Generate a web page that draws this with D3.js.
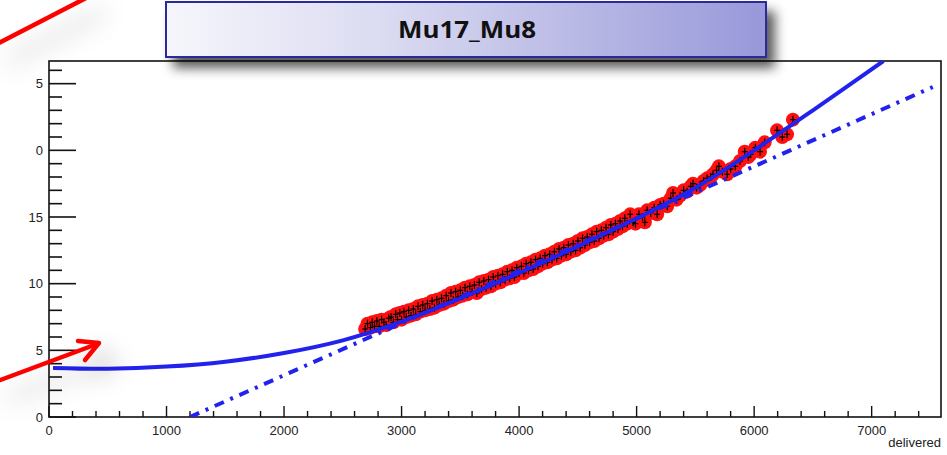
<!DOCTYPE html>
<html lang="en">
<head>
<meta charset="UTF-8">
<title>Mu17_Mu8</title>
<script src="https://d3js.org/d3.v7.min.js"></script>
<style>
  html, body { margin: 0; padding: 0; background: #fff; }
  svg { display: block; }
</style>
</head>
<body>
<svg id="chart" width="947" height="455"></svg>
<script>
// measured points (delivered lumi vs rate)
const lumiX = [2690,2710,2735,2750,2770,2790,2810,2830,2850,2870,2890,2910,2930,2950,2965,2985,
  3000,3020,3040,3060,3080,3100,3120,3140,3160,3180,3200,3220,3240,3260,3280,3300,3320,3340,3360,3380,
  3400,3420,3440,3460,3480,3500,3520,3540,3560,3580,3600,3620,3640,3660,3680,3700,3720,3740,3760,3780,
  3800,3820,3840,3860,3880,3900,3920,3940,3960,3980,4000,4020,4040,4060,4080,4100,4120,4140,4160,4180,
  4200,4220,4240,4260,4280,4300,4320,4340,4360,4380,4400,4420,4440,4460,4480,4500,4520,4540,4560,4580,
  4600,4620,4640,4660,4680,4700,4720,4740,4760,4780,4800,4820,4840,4860,4880,4900,4920,4945,4970,4990,
  5020,5050,5070,5090,5120,5150,5175,5200,5230,5260,5290,5310,5340,5370,5400,5430,5460,5480,5510,5540,
  5570,5600,5630,5650,5680,5700,5730,5770,5800,5840,5880,5920,5950,5970,6010,6050,6090,6195,6240,6280,6330];
const rateY = [6.6,7.0,6.7,7.1,6.8,7.2,6.8,7.3,7.1,6.9,7.4,7.5,7.1,7.7,7.3,7.8,
  7.3,7.9,7.5,8.0,7.6,8.1,7.7,8.3,7.9,8.4,8.0,8.5,8.1,8.7,8.2,8.8,8.4,8.9,8.5,9.1,
  8.7,9.3,8.8,9.4,9.0,9.5,9.1,9.7,9.2,9.8,9.4,9.9,9.3,10.1,9.6,10.2,9.7,10.3,9.8,10.5,
  10.0,10.6,10.1,10.7,10.3,10.9,10.4,11.0,10.5,11.2,10.8,11.3,10.8,11.5,11.0,11.6,11.1,11.8,11.3,11.9,
  11.5,12.1,11.6,12.2,11.8,12.4,11.9,12.6,12.1,12.7,12.2,12.9,12.4,13.0,12.5,13.2,12.7,13.4,12.9,13.5,
  13.1,13.7,13.2,13.9,13.4,14.0,13.6,14.2,13.7,14.4,13.9,14.5,14.1,14.7,14.3,14.9,14.5,15.2,14.6,14.5,
  15.2,15.0,14.6,15.5,15.3,15.7,15.2,15.9,16.0,15.8,16.4,16.8,16.3,16.6,17.0,16.9,17.3,17.5,17.2,17.4,
  17.7,17.9,18.0,18.2,18.5,18.8,18.4,18.2,18.6,18.8,19.2,19.9,19.5,19.7,20.2,19.9,20.6,21.5,21.0,21.2,22.3];
const errY = 0.3;
const errX = 25;

// fit curve
const fitX = [34, 500, 1000, 1500, 2000, 2500, 3000, 3500, 4000, 4500, 5000, 5500, 6000, 6500, 7100];
const fitY = [3.68, 3.62, 3.78, 4.15, 4.8, 5.75, 7.15, 8.9, 10.8, 12.8, 14.9, 17.2, 20.0, 23.0, 26.7];

// linear fit (dash-dot)
const linX = [1200, 7520];
const linY = [0, 24.75];

const xTicks = [0, 1000, 2000, 3000, 4000, 5000, 6000, 7000];
const yTicks = [0, 5, 10, 15, 20, 25];
const yTickLabels = ["0", "5", "10", "15", "0", "5"];
const titleText = "Mu17_Mu8";
const xTitle = "delivered";

const W = 947, H = 455;
const plot = {left: 49, right: 941, top: 61, bottom: 417};

const svg = d3.select("#chart");
const defs = svg.append("defs");

const x = d3.scaleLinear().domain([0, 7590]).range([plot.left, plot.right]);
const y = d3.scaleLinear().domain([0, 26.7]).range([plot.bottom, plot.top]);

// filters
const sh = defs.append("filter").attr("id", "boxShadow")
  .attr("x", "-10%").attr("y", "-40%").attr("width", "125%").attr("height", "200%");
sh.append("feDropShadow").attr("dx", 8).attr("dy", 10).attr("stdDeviation", 6)
  .attr("flood-color", "#000").attr("flood-opacity", 0.65);

const ash = defs.append("filter").attr("id", "arrowShadow")
  .attr("x", "-50%").attr("y", "-100%").attr("width", "250%").attr("height", "400%");
ash.append("feDropShadow").attr("dx", 14).attr("dy", 16).attr("stdDeviation", 12)
  .attr("flood-color", "#000").attr("flood-opacity", 0.3);

const grad = defs.append("linearGradient").attr("id", "titleGrad")
  .attr("x1", "0%").attr("x2", "100%").attr("y1", "0%").attr("y2", "0%");
grad.append("stop").attr("offset", "0%").attr("stop-color", "#f6f6fc");
grad.append("stop").attr("offset", "35%").attr("stop-color", "#dcdcf2");
grad.append("stop").attr("offset", "100%").attr("stop-color", "#9898da");

defs.append("clipPath").attr("id", "plotClip").append("rect")
  .attr("x", plot.left).attr("y", plot.top)
  .attr("width", plot.right - plot.left).attr("height", plot.bottom - plot.top);

svg.append("rect").attr("width", W).attr("height", H).attr("fill", "#fff");

// frame
svg.append("rect")
  .attr("x", plot.left).attr("y", plot.top)
  .attr("width", plot.right - plot.left).attr("height", plot.bottom - plot.top)
  .attr("fill", "none").attr("stroke", "#111").attr("stroke-width", 1.6);

// y axis ticks (inside)
const yMinor = d3.range(0, 27, 1);
svg.append("g").selectAll("line").data(yMinor).join("line")
  .attr("x1", plot.left).attr("x2", d => plot.left + (d % 5 === 0 ? 27 : 13))
  .attr("y1", d => y(d)).attr("y2", d => y(d))
  .attr("stroke", "#111").attr("stroke-width", 1.6);

svg.append("g").selectAll("text").data(yTicks).join("text")
  .attr("x", plot.left - 6).attr("y", d => y(d) + 4.5)
  .attr("text-anchor", "end")
  .style("font-family", "'Liberation Sans Narrow', 'Liberation Sans', Arial, sans-serif")
  .style("font-size", "13px").attr("fill", "#222")
  .text((d, i) => yTickLabels[i]);

// x axis ticks (inside)
const xMinor = d3.range(0, 7590, 200);
svg.append("g").selectAll("line").data(xMinor).join("line")
  .attr("x1", d => x(d)).attr("x2", d => x(d))
  .attr("y1", plot.bottom).attr("y2", d => plot.bottom - (d % 1000 === 0 ? 11 : 6))
  .attr("stroke", "#111").attr("stroke-width", 1.4);

svg.append("g").selectAll("text").data(xTicks).join("text")
  .attr("x", d => x(d)).attr("y", plot.bottom + 18)
  .attr("text-anchor", "middle")
  .style("font-family", "'Liberation Sans Narrow', 'Liberation Sans', Arial, sans-serif")
  .style("font-size", "13px").attr("fill", "#222")
  .text(d => d);

svg.append("text").attr("x", plot.right).attr("y", plot.bottom + 30)
  .attr("text-anchor", "end")
  .style("font-family", "'Liberation Sans Narrow', 'Liberation Sans', Arial, sans-serif")
  .style("font-size", "13px").attr("fill", "#222")
  .text(xTitle);

// data
const pts = lumiX.map((v, i) => ({x: v, y: rateY[i]}));
const g = svg.append("g").attr("clip-path", "url(#plotClip)");

g.append("g").selectAll("circle").data(pts).join("circle")
  .attr("cx", d => x(d.x)).attr("cy", d => y(d.y)).attr("r", 7)
  .attr("fill", "#ff1010");

const eb = g.append("g").attr("stroke", "#000").attr("stroke-width", 1.2);
eb.selectAll("line.v").data(pts).join("line").attr("class", "v")
  .attr("x1", d => x(d.x)).attr("x2", d => x(d.x))
  .attr("y1", d => y(d.y - errY)).attr("y2", d => y(d.y + errY));
eb.selectAll("line.h").data(pts).join("line").attr("class", "h")
  .attr("x1", d => x(d.x - errX)).attr("x2", d => x(d.x + errX))
  .attr("y1", d => y(d.y)).attr("y2", d => y(d.y));

// fits
const lineGen = d3.line().x(d => x(d[0])).y(d => y(d[1])).curve(d3.curveCatmullRom);
g.append("path").datum(linX.map((v, i) => [v, linY[i]]))
  .attr("d", lineGen).attr("fill", "none")
  .attr("stroke", "#2222ee").attr("stroke-width", 4)
  .attr("stroke-dasharray", "10,7,3,7");
g.append("path").datum(fitX.map((v, i) => [v, fitY[i]]))
  .attr("d", lineGen).attr("fill", "none")
  .attr("stroke", "#2222ee").attr("stroke-width", 4);

// title box
svg.append("rect").attr("x", 166).attr("y", 2).attr("width", 600).attr("height", 55)
  .attr("fill", "url(#titleGrad)").attr("stroke", "#2a2a9a").attr("stroke-width", 2)
  .attr("filter", "url(#boxShadow)");
svg.append("text").attr("x", 467).attr("y", 38).attr("text-anchor", "middle")
  .style("font-family", "'Open Sans', 'Noto Sans', sans-serif")
  .style("font-weight", "700").style("font-size", "24px").attr("fill", "#111")
  .attr("textLength", 138).attr("lengthAdjust", "spacingAndGlyphs")
  .text(titleText);

// red annotation arrows
const arrows = svg.append("g").attr("fill", "none").attr("stroke", "#ff0000")
  .attr("stroke-width", 4.5).attr("stroke-linecap", "round").attr("stroke-linejoin", "round")
  .attr("filter", "url(#arrowShadow)");
arrows.append("line").attr("x1", -5).attr("y1", 45).attr("x2", 88).attr("y2", -3);
arrows.append("line").attr("x1", -5).attr("y1", 382).attr("x2", 97).attr("y2", 344);
arrows.append("polyline").attr("points", "78,341 99,343 85,360");
</script>
</body>
</html>
